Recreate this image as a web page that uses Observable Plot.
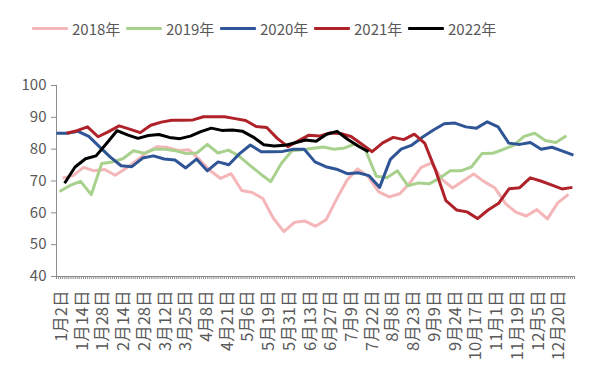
<!DOCTYPE html>
<html>
<head>
<meta charset="utf-8">
<script src="https://cdn.jsdelivr.net/npm/d3@7"></script>
<script src="https://cdn.jsdelivr.net/npm/@observablehq/plot@0.6"></script>
<style>
  html, body { margin: 0; padding: 0; background: #fff; }
  body { width: 592px; height: 372px; overflow: hidden; font-family: "Noto Sans CJK SC", "Noto Sans", sans-serif; }
  #legend { position: relative; height: 50px; }
  .item { position: absolute; top: 18px; display: flex; align-items: center; font-size: 15px; color: #595959; white-space: nowrap; }
  .sw { width: 36px; height: 3px; margin-right: 4px; border-radius: 1px; }
  svg { display: block; }
</style>
</head>
<body>
<div id="legend"></div>
<div id="chart"></div>
<script>
// ---- data ----
const years = ["2018年", "2019年", "2020年", "2021年", "2022年"];
const colors = ["#F4B6B8", "#A9D18E", "#2F5597", "#B0222A", "#000000"];

// x axis: category (trading-day) index, labels every 10 categories
const categoryCount = 250;
const xLabels = ["1月2日","1月14日","1月28日","2月14日","2月28日","3月12日","3月25日","4月8日","4月21日",
  "5月6日","5月19日","5月31日","6月13日","6月27日","7月9日","7月22日","8月8日","8月23日",
  "9月9日","9月24日","10月17日","11月1日","11月19日","12月5日","12月20日"];
const yTicks = [40, 50, 60, 70, 80, 90, 100];

// first / last category index of each year's weekly series
const seriesStart = { "2018年": 2.9, "2019年": 1.45, "2020年": 0, "2021年": 4.8, "2022年": 3.9 };
const seriesEnd   = { "2018年": 247.1, "2019年": 246.1, "2020年": 249.5, "2021年": 249, "2022年": 150.6 };

const v2018 = [70.9,71.7,74.3,73.2,73.6,71.8,73.9,76.4,79,80.8,80.5,79.6,79.8,76.7,73.3,70.8,72.3,67,66.4,64.5,
  58.3,54.1,57,57.4,55.8,57.8,64.3,70.3,73.8,71.4,66.6,65,66,69.6,74.2,75.7,70.5,67.8,70,72.2,
  69.8,67.9,63,60.2,59,61,58.1,63.2,65.8];
const v2019 = [66.7,68.6,69.9,65.7,75.5,76,77,79.5,78.7,80,80,79.5,78.6,78.8,81.5,78.8,79.7,77.8,75,72.3,
  69.8,75.5,79.5,79.8,80.3,80.7,80,80.4,81.7,79.5,71.5,71,73.2,68.5,69.4,69.1,70.9,73.2,73.2,74.4,
  78.6,78.7,79.9,81.2,84,85,82.7,82.1,84.2];
const v2020 = [85,85,85.6,84,80.7,77.5,74.8,74.5,77.2,77.9,76.9,76.6,74.1,76.9,73.2,76,75.1,78.6,81.3,79.2,
  79.2,79.3,80,80,76,74.5,73.7,72.3,72.6,71.7,68,76.8,80,81.3,83.8,86,88,88.2,87,86.6,
  88.6,87,81.9,81.5,82.1,80,80.6,79.4,78.1];
const v2021 = [85,85.8,87,83.9,85.5,87.3,86.3,85.2,87.5,88.5,89.1,89.1,89.2,90.2,90.2,90.2,89.6,89,87.1,86.8,
  83.4,80.8,82.6,84.4,84.1,85.1,84.9,84,81.6,79.2,82,83.7,83,84.7,81.8,73.5,63.8,60.9,60.3,58.2,
  60.9,63,67.6,67.9,71,70,68.8,67.5,68];
const v2022 = [69.3,74.4,77,77.9,81.8,85.8,84.5,83.4,84.3,84.6,83.7,83.3,84.1,85.5,86.6,85.9,86,85.6,83.8,81.4,
  81,81.2,82,82.9,82.5,84.7,85.6,83.1,81,79.2];

const seriesValues = { "2018年": v2018, "2019年": v2019, "2020年": v2020, "2021年": v2021, "2022年": v2022 };

// ---- build table ----
const rows = [];
for (const year of years) {
  const vals = seriesValues[year];
  const s = seriesStart[year], e = seriesEnd[year];
  vals.forEach((v, i) => rows.push({ year, x: s + (e - s) * i / (vals.length - 1), value: v }));
}
const labelPos = xLabels.map((_, k) => 10 * k + 2.5);
const labelRows = xLabels.map((t, k) => ({ t, x: labelPos[k] }));
const minorTicks = d3.range(0, categoryCount + 1);

// ---- legend ----
const legend = document.getElementById("legend");
years.forEach((y, i) => {
  const it = document.createElement("div");
  it.className = "item";
  it.style.left = (32 + 94 * i) + "px";
  it.innerHTML = `<span class="sw" style="background:${colors[i]}"></span><span>${y}</span>`;
  legend.appendChild(it);
});

// ---- chart ----
const axisGray = "#8C8C8C";
const chart = Plot.plot({
  width: 592,
  height: 322,
  marginTop: 35,
  marginBottom: 96,
  marginLeft: 56,
  marginRight: 18,
  style: { fontFamily: '"Noto Sans CJK SC", "Noto Sans", sans-serif', fontSize: "15px", color: "#595959", background: "#fff" },
  x: { domain: [0, categoryCount], axis: null, label: null },
  y: { domain: [40, 100], axis: null, label: null },
  color: { domain: years, range: colors },
  marks: [
    Plot.axisY({ ticks: yTicks, tickSize: 5, tickPadding: 5, stroke: axisGray, fill: "#595959", tickFormat: d => d, label: null }),
    Plot.ruleX([0], { y1: 40, y2: 100, stroke: axisGray }),
    Plot.axisX({ ticks: minorTicks, tickSize: 3, tickPadding: 0, stroke: axisGray, tickFormat: () => "", label: null }),
    Plot.ruleY([40], { stroke: axisGray }),
    Plot.text(labelRows, { x: "x", text: "t", frameAnchor: "bottom", rotate: -90, textAnchor: "end", lineAnchor: "middle", dy: 14, fill: "#595959", fontSize: 16.5 }),
    Plot.line(rows, { x: "x", y: "value", z: "year", stroke: "year", strokeWidth: 3, strokeLinejoin: "round", strokeLinecap: "butt" })
  ]
});
document.getElementById("chart").appendChild(chart);
</script>
</body>
</html>
